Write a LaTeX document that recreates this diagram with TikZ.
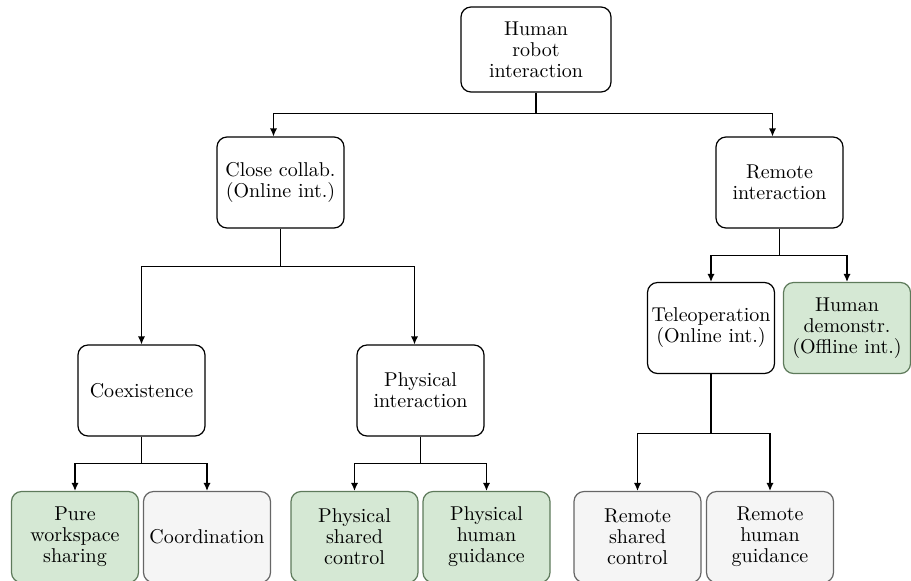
\documentclass[tikz,border=0pt]{standalone}
\usetikzlibrary{arrows.meta}
\definecolor{greenfill}{HTML}{D5E8D4}
\definecolor{greenline}{HTML}{5E7A5B}
\definecolor{grayfill}{HTML}{F5F5F5}
\definecolor{grayline}{HTML}{666666}
\tikzset{
  box/.style={draw, rounded corners=5pt, align=center, inner sep=1pt,
    minimum width=63.5pt, minimum height=45.5pt,
    font=\fontsize{10}{10.5}\selectfont},
  greenbox/.style={box, fill=greenfill, draw=greenline},
  graybox/.style={box, fill=grayfill, draw=grayline},
  link/.style={-{Latex[length=4pt,width=3.6pt]}}
}
\begin{document}
\begin{tikzpicture}[x=0.5pt, y=-0.5pt, line width=0.6pt]
  \useasboundingbox (0,0) rectangle (911,580);

  % root
  \node[box, minimum width=75pt, minimum height=42.5pt] (hri) at (536,49.5) {Human\\robot\\interaction};

  % second level
  \node[box] (cc) at (280.5,182.5) {Close collab.\\(Online int.)};
  \node[box] (ri) at (779.5,182.5) {Remote\\interaction};

  % third level
  \node[box] (coex) at (141.5,390.5) {Coexistence};
  \node[box] (phys) at (420.5,390.5) {Physical\\interaction};
  \node[box] (tele) at (711,328) {Teleoperation\\(Online int.)};
  \node[greenbox] (demo) at (847,328) {Human\\demonstr.\\(Offline int.)};

  % leaves
  \node[greenbox] (pws) at (75,537) {Pure\\workspace\\sharing};
  \node[graybox] (coord) at (207,537) {Coordination};
  \node[greenbox] (psc) at (354.5,537) {Physical\\shared\\control};
  \node[greenbox] (phg) at (486.5,537) {Physical\\human\\guidance};
  \node[graybox] (rsc) at (637.5,537) {Remote\\shared\\control};
  \node[graybox] (rhg) at (770,537) {Remote\\human\\guidance};

  % connectors
  \draw (hri.south) -- ++(0,21) coordinate (hrij);
  \draw[link] (hrij) -| ([xshift=-3.5pt]cc.north);
  \draw[link] (hrij) -| ([xshift=-3.5pt]ri.north);

  \draw (cc.south) -- ++(0,38) coordinate (ccj);
  \draw[link] (ccj) -| (coex.north);
  \draw[link] (ccj) -| ([xshift=-3pt]phys.north);

  \draw (ri.south) -- ++(0,27) coordinate (rij);
  \draw[link] (rij) -| (tele.north);
  \draw[link] (rij) -| (demo.north);

  \draw (coex.south) -- ++(0,27) coordinate (coexj);
  \draw[link] (coexj) -| (pws.north);
  \draw[link] (coexj) -| (coord.north);

  \draw (phys.south) -- ++(0,27) coordinate (physj);
  \draw[link] (physj) -| (psc.north);
  \draw[link] (physj) -| (phg.north);

  \draw (tele.south) -- ++(0,59) coordinate (telej);
  \draw[link] (telej) -| (rsc.north);
  \draw[link] (telej) -| (rhg.north);
\end{tikzpicture}
\end{document}
